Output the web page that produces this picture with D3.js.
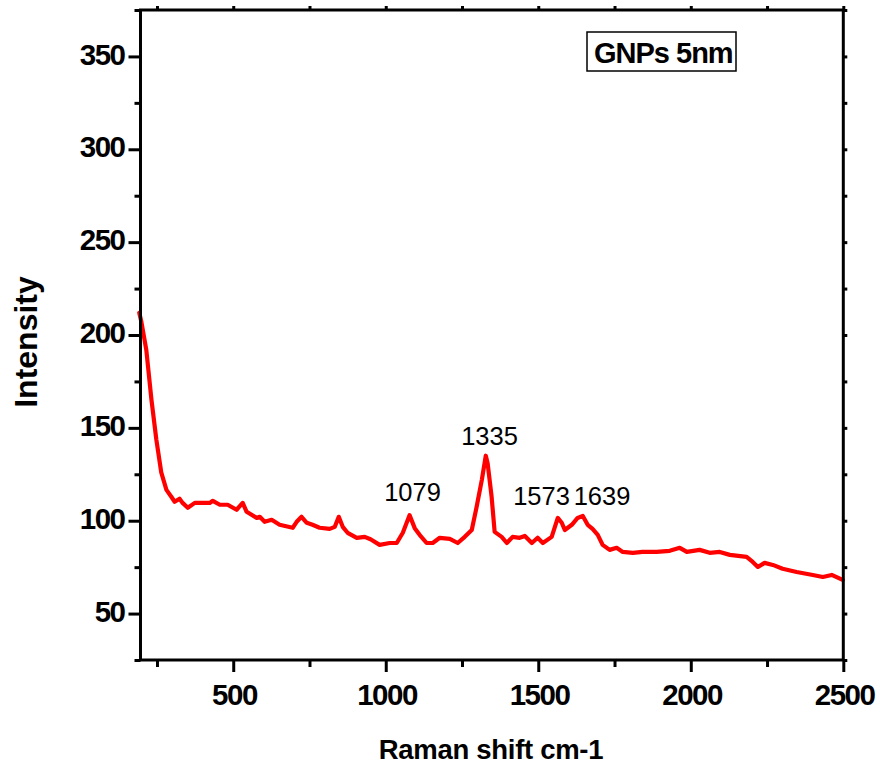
<!DOCTYPE html>
<html>
<head>
<meta charset="utf-8">
<script src="https://cdn.jsdelivr.net/npm/d3@7"></script>
<style>
  html, body { margin: 0; padding: 0; background: #fff; }
  svg { display: block; }
  text { font-family: "Liberation Sans", Arial, sans-serif; fill: #000; }
</style>
</head>
<body>
<svg id="chart" width="880" height="768"></svg>
<script>
// ---- data ----
const shift = [192, 199, 215, 232, 248, 264, 281, 297, 308, 324, 334, 351, 374, 400, 423, 433, 456, 482, 511, 531, 544, 577, 587, 603, 626, 652, 695, 708, 724, 741, 760, 783, 816, 833, 846, 859, 875, 905, 931, 950, 980, 1013, 1036, 1056, 1078, 1095, 1111, 1134, 1154, 1177, 1210, 1236, 1259, 1282, 1298, 1315, 1328, 1334, 1347, 1357, 1380, 1397, 1416, 1439, 1456, 1479, 1498, 1515, 1544, 1564, 1577, 1587, 1610, 1629, 1646, 1662, 1678, 1695, 1711, 1734, 1757, 1777, 1810, 1842, 1888, 1931, 1964, 1987, 2029, 2062, 2095, 2128, 2183, 2203, 2220, 2242, 2269, 2301, 2347, 2400, 2433, 2462, 2498];
const intensity = [212, 207, 192, 165, 143.6, 126, 116.6, 112.9, 110.2, 111.8, 109.6, 107, 109.6, 109.6, 109.6, 110.7, 108.6, 108.6, 105.9, 109.6, 104.8, 101.5, 102.1, 99.4, 100.5, 97.8, 96.2, 99.4, 102.1, 98.9, 97.8, 96.2, 95.6, 96.7, 102.1, 96.7, 93.5, 90.8, 91.3, 90, 87, 88, 88, 93.5, 103, 96, 92.4, 88, 88, 90.8, 90.2, 88, 91.3, 95, 107.5, 122, 135, 131, 113, 94, 91.3, 88, 91.3, 90.8, 91.8, 88, 90.8, 88, 91.3, 101.5, 98.9, 95, 97.8, 101.5, 102.6, 97.8, 95.6, 92.4, 87, 84.3, 85.4, 83.2, 82.7, 83.2, 83.2, 83.8, 85.4, 83.2, 84.3, 82.7, 83.2, 81.6, 80.5, 77.8, 75.1, 77.3, 76.2, 74.1, 72.4, 70.8, 69.7, 70.8, 68.1];

const xMajor = [500, 1000, 1500, 2000, 2500];
const xMinor = [250, 750, 1250, 1750, 2250];
const yMajor = [50, 100, 150, 200, 250, 300, 350];
const yMinor = [25, 75, 125, 175, 225, 275, 325, 375];

const peakLabels = ["1079", "1335", "1573", "1639"];

const legendText = "GNPs 5nm";
const xTitle = "Raman shift cm-1";
const yTitle = "Intensity";

// ---- layout ----
const svg = d3.select("#chart");
const L = 140.5, R = 843.3, T = 10, B = 660;
const x = d3.scaleLinear().domain([196, 2500]).range([L, R]);
const y = d3.scaleLinear().domain([25, 375]).range([B, T]);

const data = shift.map((s, i) => ({ s, v: intensity[i] }));

// curve
const line = d3.line().x(d => x(d.s)).y(d => y(d.v));
svg.append("path")
  .datum(data)
  .attr("d", line)
  .attr("fill", "none")
  .attr("stroke", "#ff0000")
  .attr("stroke-width", 4.2)
  .attr("stroke-linejoin", "round")
  .attr("stroke-linecap", "round");

// axes
function styleAxis(g) {
  g.select(".domain").remove();
  g.selectAll(".tick line").attr("stroke", "#000").attr("stroke-width", 3);
}

// bottom major
svg.append("g").attr("transform", `translate(0,${B})`)
  .call(d3.axisBottom(x).tickValues(xMajor).tickSize(12).tickPadding(12).tickFormat(d3.format("d")))
  .call(styleAxis)
  .call(g => g.selectAll("text")
    .attr("font-size", 29.5).attr("font-weight", "bold")
    .attr("letter-spacing", "-1.5px")
    .attr("font-family", "Liberation Sans, Arial, sans-serif")
    .attr("dx", "0.75px"));
svg.append("g").attr("transform", `translate(0,${B})`)
  .call(d3.axisBottom(x).tickValues(xMinor).tickSize(7).tickFormat(""))
  .call(styleAxis);

// left major
svg.append("g").attr("transform", `translate(${L},0)`)
  .call(d3.axisLeft(y).tickValues(yMajor).tickSize(12).tickPadding(4).tickFormat(d3.format("d")))
  .call(styleAxis)
  .call(g => g.selectAll("text")
    .attr("font-size", 29.5).attr("font-weight", "bold")
    .attr("letter-spacing", "-1.5px")
    .attr("font-family", "Liberation Sans, Arial, sans-serif")
    .attr("dy", "0.26em"));
svg.append("g").attr("transform", `translate(${L},0)`)
  .call(d3.axisLeft(y).tickValues(yMinor).tickSize(6).tickFormat(""))
  .call(styleAxis);

// top ticks (small, outward)
svg.append("g").attr("transform", `translate(0,${T})`)
  .call(d3.axisTop(x).tickValues(xMajor.concat(xMinor)).tickSize(4).tickFormat(""))
  .call(styleAxis);
// right ticks (small, outward)
svg.append("g").attr("transform", `translate(${R},0)`)
  .call(d3.axisRight(y).tickValues(yMajor.concat(yMinor)).tickSize(4).tickFormat(""))
  .call(styleAxis);

// frame
svg.append("rect")
  .attr("x", L).attr("y", T).attr("width", R - L).attr("height", B - T)
  .attr("fill", "none").attr("stroke", "#000").attr("stroke-width", 3);

// axis titles
svg.append("text")
  .attr("x", 491).attr("y", 759)
  .attr("text-anchor", "middle")
  .attr("font-size", 27.5).attr("font-weight", "bold")
  .attr("letter-spacing", "-0.3px")
  .text(xTitle);

svg.append("text")
  .attr("transform", "translate(37,342) rotate(-90)")
  .attr("text-anchor", "middle")
  .attr("font-size", 32).attr("font-weight", "bold")
  .text(yTitle);

// legend box
const lg = svg.append("g");
lg.append("rect")
  .attr("x", 587).attr("y", 32).attr("width", 149).attr("height", 39)
  .attr("fill", "#fff").attr("stroke", "#000").attr("stroke-width", 1.5);
lg.append("text")
  .attr("x", 594).attr("y", 63)
  .attr("font-size", 29).attr("font-weight", "bold")
  .attr("letter-spacing", "-1px")
  .text(legendText);

// peak annotations
const peakTextX = [412.5, 489.5, 541.5, 602];
const peakTextY = [501, 445, 505, 505];
svg.selectAll(".peak")
  .data(peakLabels)
  .enter().append("text")
  .attr("class", "peak")
  .attr("x", (d, i) => peakTextX[i])
  .attr("y", (d, i) => peakTextY[i])
  .attr("text-anchor", "middle")
  .attr("font-size", 25.5)
  .attr("font-family", "Liberation Sans, Arial, sans-serif")
  .text(d => d);
</script>
</body>
</html>
